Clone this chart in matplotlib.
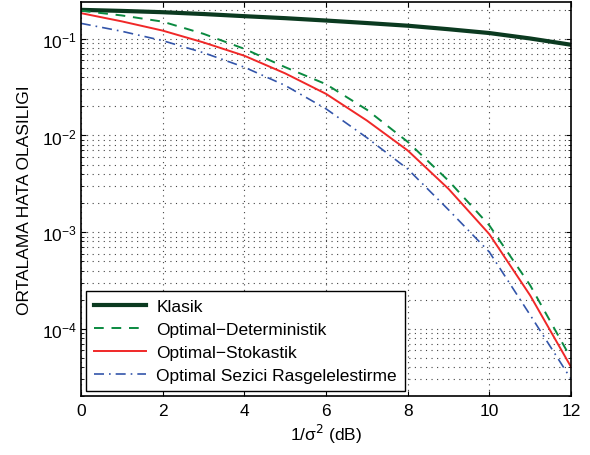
import numpy as np
import matplotlib.pyplot as plt

plt.rcParams['font.family'] = ['Liberation Sans', 'DejaVu Sans']

snr_db = [0, 1, 2, 3, 4, 5, 6, 7, 8, 9, 10, 11, 12]
klasik = [0.200, 0.195, 0.189, 0.181, 0.172, 0.164, 0.155, 0.146, 0.137, 0.126, 0.115, 0.101, 0.087]
deterministik = [0.196, 0.175, 0.151, 0.113, 0.079, 0.051, 0.034, 0.0185, 0.0086, 0.0034, 0.00117, 0.00028, 0.000049]
stokastik = [0.185, 0.152, 0.122, 0.092, 0.067, 0.044, 0.027, 0.0143, 0.0070, 0.0028, 0.00095, 0.00022, 0.000040]
sezici = [0.145, 0.120, 0.096, 0.072, 0.051, 0.033, 0.0189, 0.0095, 0.0045, 0.0017, 0.00062, 0.000138, 0.000030]

labels = ['Klasik', 'Optimal\u2212Deterministik', 'Optimal\u2212Stokastik',
          'Optimal Sezici Rasgelelestirme']

fs = 12.5

fig = plt.figure(figsize=(5.9, 4.56), dpi=100)
ax = fig.add_axes([0.137, 0.129, 0.831, 0.864])

ax.semilogy(snr_db, klasik, color='#0b3a20', lw=3, label=labels[0])
ax.semilogy(snr_db, deterministik, color='#0a8a40', lw=1.4, ls=(0, (5, 4)), label=labels[1])
ax.semilogy(snr_db, stokastik, color='#f02828', lw=1.4, label=labels[2])
ax.semilogy(snr_db, sezici, color='#3355aa', lw=1.2, ls=(0, (6, 3, 1, 3)), label=labels[3])

ax.set_xlim(0, 12)
ax.set_ylim(2e-5, 0.24)
ax.set_xticks([0, 2, 4, 6, 8, 10, 12])
ax.grid(True, which='major', ls=(0, (1, 4)), color='#444444', lw=0.8)
ax.grid(True, which='minor', axis='y', ls=(0, (1, 4)), color='#444444', lw=0.8)
ax.tick_params(which='both', direction='in', top=True, right=True, labelsize=fs)
ax.tick_params(axis='x', pad=5)
ax.tick_params(axis='y', pad=3)
for s in ax.spines.values():
    s.set_linewidth(1.2)

ax.set_xlabel('1/\u03c3$^2$ (dB)', fontsize=fs, labelpad=3)
ax.set_ylabel('ORTALAMA HATA OLASILIGI', fontsize=fs)
ax.yaxis.set_label_coords(-0.1, 0.5)

leg = ax.legend(loc='lower left', fontsize=fs, fancybox=False, framealpha=1,
                edgecolor='black', borderaxespad=0.3, handlelength=3.0,
                labelspacing=0.45, borderpad=0.45, handletextpad=0.6)
leg.get_frame().set_linewidth(1.0)

fig.savefig('out.png', dpi=100)
